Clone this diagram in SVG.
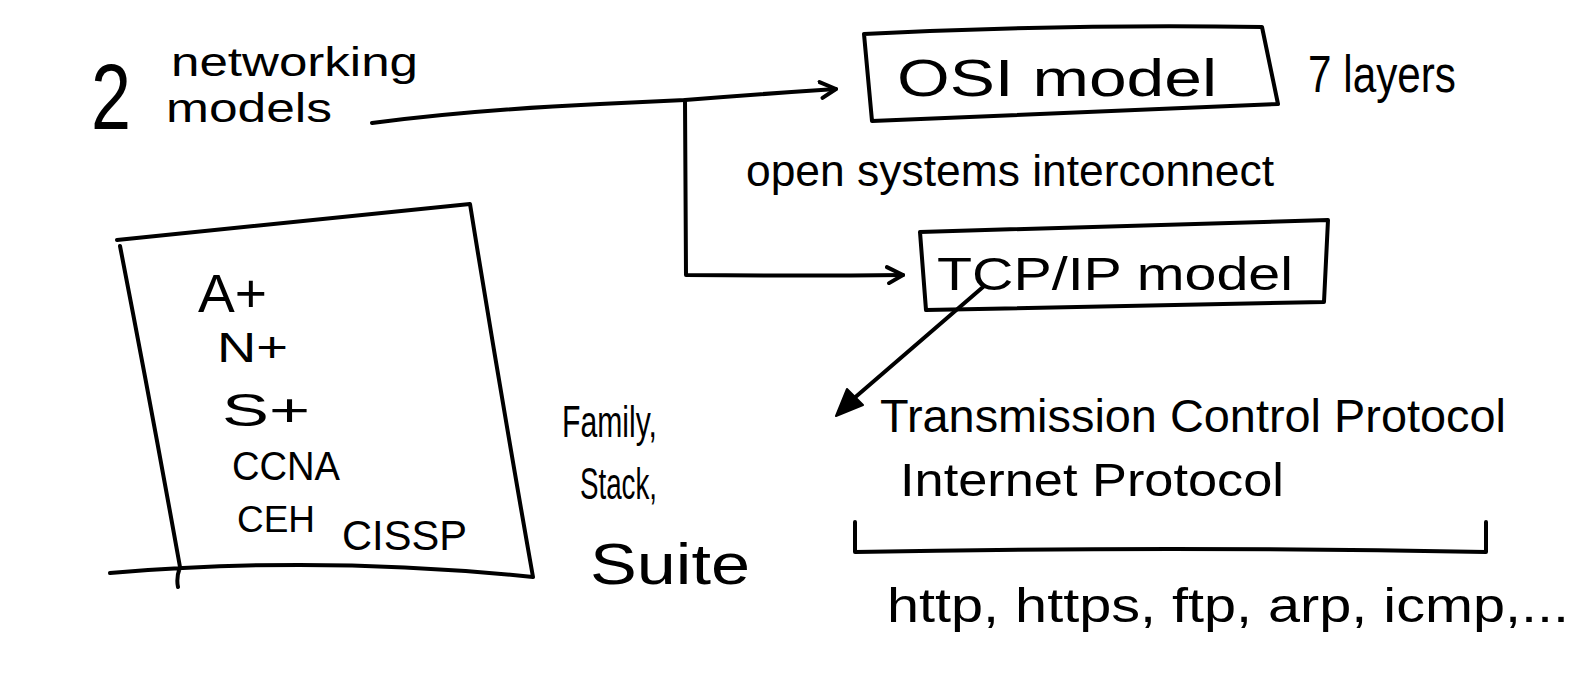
<svg xmlns="http://www.w3.org/2000/svg" width="1580" height="680" viewBox="0 0 1580 680">
<style>
.ln{fill:none;stroke:#000;stroke-width:4;stroke-linecap:round;stroke-linejoin:round}
.t{font-family:"Liberation Sans","DejaVu Sans",sans-serif;fill:#000}
</style>
<defs>
<marker id="open" viewBox="0 0 20 20" refX="18" refY="10" markerWidth="20" markerHeight="20" markerUnits="userSpaceOnUse" orient="auto">
<path d="M2 2 L18 10 L4 18" fill="none" stroke="#000" stroke-width="4" stroke-linecap="round" stroke-linejoin="round"/>
</marker>
</defs>
<rect width="1580" height="680" fill="#fff"/>

<g id="title">
<text class="t" x="91" y="129" font-size="92" textLength="40" lengthAdjust="spacingAndGlyphs">2</text>
<text class="t" x="171" y="76" font-size="40" textLength="247" lengthAdjust="spacingAndGlyphs">networking</text>
<text class="t" x="166" y="122" font-size="40" textLength="166" lengthAdjust="spacingAndGlyphs">models</text>
</g>

<g id="osi">
<path class="ln" d="M864 34 Q1060 24 1262 27 L1278 104 L872 121 Z"/>
<text class="t" x="897" y="96" font-size="52" textLength="320" lengthAdjust="spacingAndGlyphs">OSI model</text>
<text class="t" x="1308" y="92" font-size="52" textLength="148" lengthAdjust="spacingAndGlyphs">7 layers</text>
<text class="t" x="746" y="186" font-size="44" textLength="528" lengthAdjust="spacingAndGlyphs">open systems interconnect</text>
</g>

<g id="tcpip">
<path class="ln" d="M920 232 L1328 220 L1324 302 L926 310 Z"/>
<text class="t" x="937" y="290" font-size="46" textLength="356" lengthAdjust="spacingAndGlyphs">TCP/IP model</text>
</g>

<g id="certs">
<path class="ln" d="M117 240 Q300 222 470 204 Q500 390 533 577 Q320 555 110 573 M120 246 Q150 400 180 567 Q176 578 178 587"/>
<text class="t" x="198" y="312" font-size="54" textLength="69" lengthAdjust="spacingAndGlyphs">A+</text>
<text class="t" x="217" y="362" font-size="42" textLength="71" lengthAdjust="spacingAndGlyphs">N+</text>
<text class="t" x="222" y="426" font-size="46" textLength="88" lengthAdjust="spacingAndGlyphs">S+</text>
<text class="t" x="232" y="480" font-size="40" textLength="108" lengthAdjust="spacingAndGlyphs">CCNA</text>
<text class="t" x="237" y="532" font-size="36" textLength="78" lengthAdjust="spacingAndGlyphs">CEH</text>
<text class="t" x="342" y="550" font-size="42" textLength="125" lengthAdjust="spacingAndGlyphs">CISSP</text>
</g>

<g id="suite">
<text class="t" x="562" y="437" font-size="44" textLength="95" lengthAdjust="spacingAndGlyphs">Family,</text>
<text class="t" x="580" y="499" font-size="44" textLength="77" lengthAdjust="spacingAndGlyphs">Stack,</text>
<text class="t" x="590" y="584" font-size="58" textLength="160" lengthAdjust="spacingAndGlyphs">Suite</text>
</g>

<g id="protocols">
<text class="t" x="880" y="432" font-size="46" textLength="626" lengthAdjust="spacingAndGlyphs">Transmission Control Protocol</text>
<text class="t" x="900" y="496" font-size="46" textLength="384" lengthAdjust="spacingAndGlyphs">Internet Protocol</text>
<path class="ln" d="M855 522 L855 552 Q1170 546 1486 552 L1486 522"/>
<text class="t" x="887" y="622" font-size="48" textLength="682" lengthAdjust="spacingAndGlyphs">http, https, ftp, arp, icmp,...</text>
</g>

<g id="connectors">
<path class="ln" d="M372 123 Q470 110 600 104 L685 100 Q760 94 836 89" marker-end="url(#open)"/>
<path class="ln" d="M685 100 L686 275 Q800 276 903 275" marker-end="url(#open)"/>
<path class="ln" d="M983 287 L852 400"/>
<path d="M836 416 L847 389 L863 405 Z" fill="#000" stroke="#000" stroke-width="2" stroke-linejoin="round"/>
</g>
</svg>
